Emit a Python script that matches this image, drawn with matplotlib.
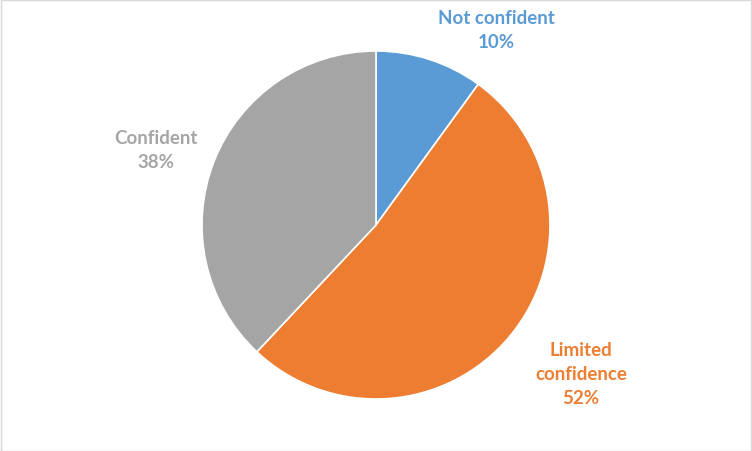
import matplotlib.pyplot as plt
from matplotlib.patches import Rectangle

categories = ['Not confident', 'Limited confidence', 'Confident']
shares = [10, 52, 38]
colors = ['#5B9BD5', '#ED7D31', '#A5A5A5']

# label text placement (pixel coords, y from bottom) and line breaks
label_texts = ['Not confident\n10%', 'Limited\nconfidence\n52%', 'Confident\n38%']
label_pos = [(496, 422), (581, 77), (156, 302)]

plt.rcParams['font.family'] = ['Lato', 'DejaVu Sans']

fig = plt.figure(figsize=(7.52, 4.52), dpi=100)
ax = fig.add_axes([0, 0, 1, 1])
ax.set_xlim(0, 752)
ax.set_ylim(0, 452)
ax.set_aspect('equal')
ax.axis('off')

ax.pie(shares, colors=colors, startangle=90, counterclock=False,
       center=(376, 226), radius=174,
       wedgeprops=dict(edgecolor='white', linewidth=1.2))

for txt, (x, y), c in zip(label_texts, label_pos, colors):
    ax.text(x, y, txt, color=c, fontsize=13.5, fontweight='bold',
            ha='center', va='center', linespacing=1.5)

ax.set_xlim(0, 752)
ax.set_ylim(0, 452)
fig.patches.append(Rectangle((0.5 / 752, 0.5 / 452), 1 - 1.5 / 752, 1 - 1.5 / 452,
                             transform=fig.transFigure, fill=False,
                             edgecolor='#D9D9D9', linewidth=1))

fig.savefig('out.png', dpi=100, facecolor='white')
